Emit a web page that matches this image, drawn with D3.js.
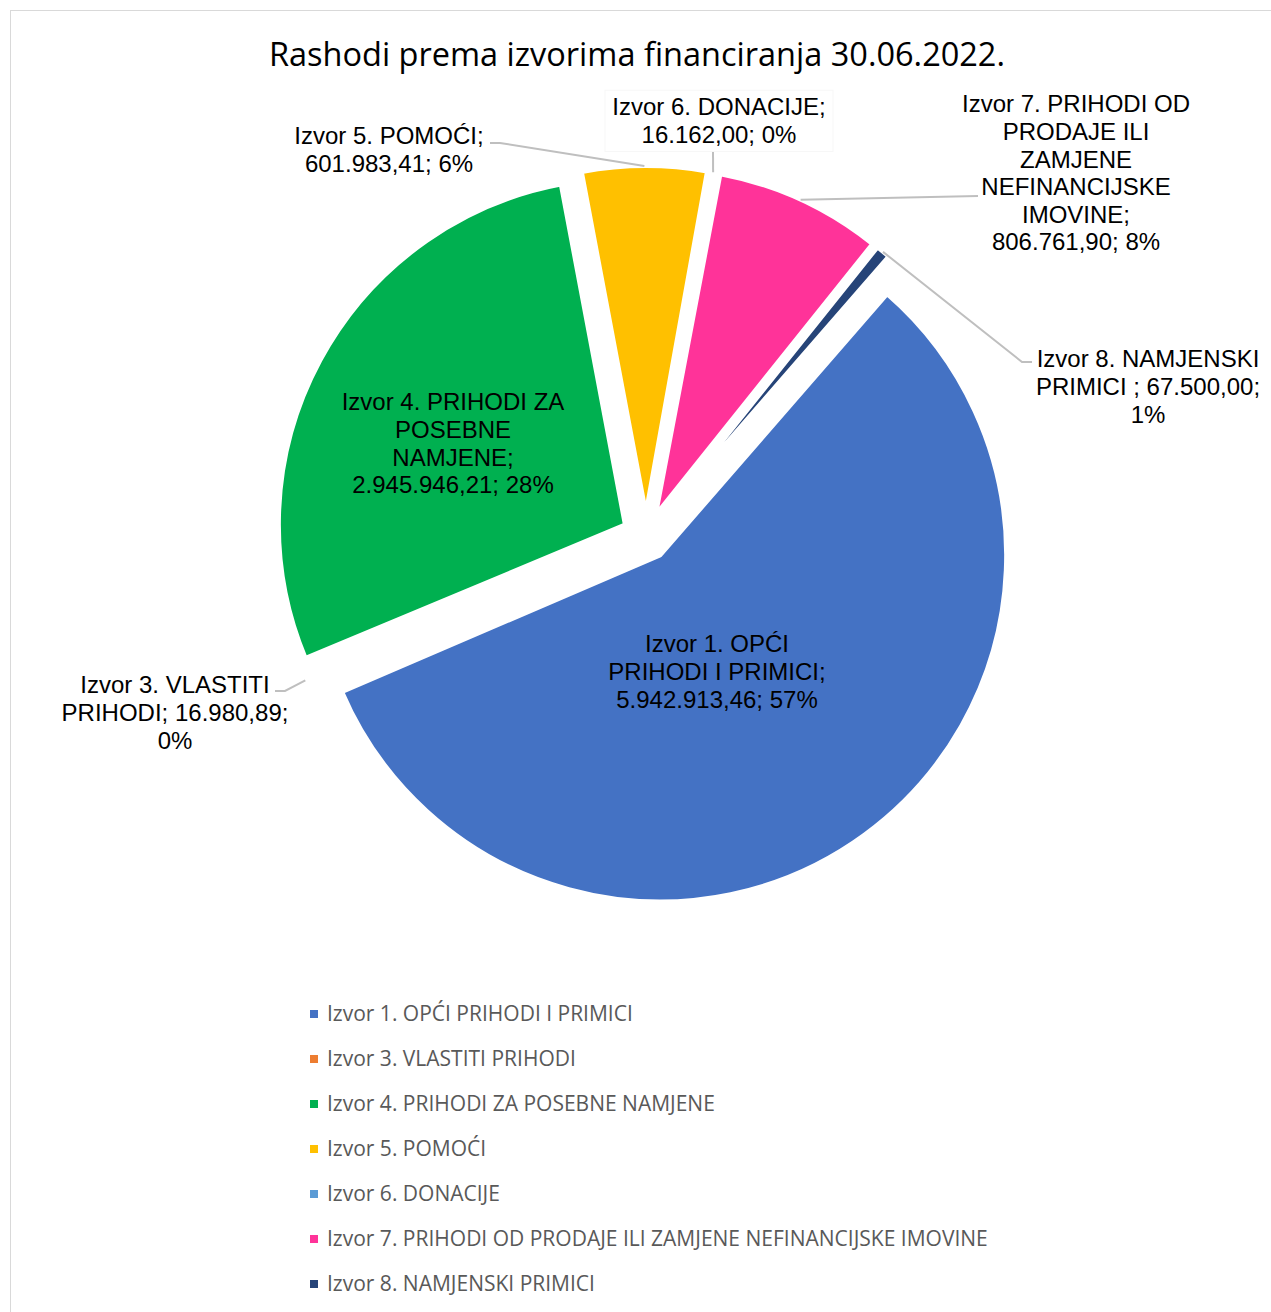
<!DOCTYPE html>
<html>
<head>
<meta charset="utf-8">
<title>Rashodi prema izvorima financiranja</title>
<script src="https://d3js.org/d3.v7.min.js"></script>
<style>
  body { margin: 0; background: #fff; }
  .lbl { font-family: "Liberation Sans", Arial, sans-serif; font-size: 24px; fill: #000; }
  .leg { font-family: "Open Sans", sans-serif; font-size: 21px; fill: #595959; }
  .ttl { font-family: "Open Sans", sans-serif; font-size: 32.5px; fill: #000; }
  .leader { fill: none; stroke: #bfbfbf; stroke-width: 2px; }
</style>
</head>
<body>
<svg id="chart" width="1271" height="1312"></svg>
<script>
// --- data ---
var categories = [
    "Izvor 1. OPĆI PRIHODI I PRIMICI",
    "Izvor 3. VLASTITI PRIHODI",
    "Izvor 4. PRIHODI ZA POSEBNE NAMJENE",
    "Izvor 5. POMOĆI",
    "Izvor 6. DONACIJE",
    "Izvor 7. PRIHODI OD PRODAJE ILI ZAMJENE NEFINANCIJSKE IMOVINE",
    "Izvor 8. NAMJENSKI PRIMICI "
];
var values = [5942913.46, 16980.89, 2945946.21, 601983.41, 16162.00, 806761.90, 67500.00];
var valueLabels = ["5.942.913,46", "16.980,89", "2.945.946,21", "601.983,41", "16.162,00", "806.761,90", "67.500,00"];
var percentLabels = ["57%", "0%", "28%", "6%", "0%", "8%", "1%"];
var colors = ["#4472C4", "#ED7D31", "#00B050", "#FFC000", "#5B9BD5", "#FF3399", "#264478"];
var title = "Rashodi prema izvorima financiranja 30.06.2022.";

// words per line for each data label (how Excel wrapped them)
var labelWrap = [[3, 3, 2], [3, 2, 1], [4, 1, 1, 2], [3, 2], [3, 2], [4, 2, 1, 1, 1, 2], [3, 3, 1]];

// --- layout ---
var cx = 646, cy = 536, radius = 346, explode = 24;
var firstSliceAngle = 41; // degrees, like Excel's "angle of first slice"
var lineH = 27.6;

// label centre (x) and first line centre (y); elbow = leader bend next to the label
var labelPos = [
    { x: 717, y: 644 },
    { x: 175, y: 685, elbow: [[285, 691], [275, 691]] },
    { x: 453, y: 402 },
    { x: 389, y: 136, elbow: [[500, 143], [490, 143]] },
    { x: 719, y: 107, elbow: [[713, 152]], box: true },
    { x: 1076, y: 104, elbow: [[978, 196]] },
    { x: 1148, y: 359, elbow: [[1022, 362], [1032, 362]] }
];

var svg = d3.select("#chart");

svg.append("rect")
    .attr("x", 10.5).attr("y", 10.5)
    .attr("width", 1275).attr("height", 1320)
    .attr("fill", "#fff")
    .attr("stroke", "#d9d9d9");

svg.append("text")
    .attr("class", "ttl")
    .attr("x", 637).attr("y", 66)
    .attr("text-anchor", "middle")
    .text(title);

var a0 = firstSliceAngle * Math.PI / 180;
var pie = d3.pie().sort(null).startAngle(a0).endAngle(a0 + 2 * Math.PI);
var arcs = pie(values);

var arc = d3.arc().innerRadius(0).outerRadius(radius);

function offset(d, dist) {
    var mid = (d.startAngle + d.endAngle) / 2;
    return [Math.sin(mid) * dist, -Math.cos(mid) * dist];
}

var g = svg.append("g").attr("transform", "translate(" + cx + "," + cy + ")");

g.selectAll(".slice")
    .data(arcs)
  .enter().append("path")
    .attr("class", "slice")
    .attr("transform", function(d) { var o = offset(d, explode); return "translate(" + o[0] + "," + o[1] + ")"; })
    .attr("d", arc)
    .attr("fill", function(d, i) { return colors[i]; })
    .attr("stroke", "#fff")
    .attr("stroke-width", 4)
    .attr("stroke-linejoin", "bevel");

// leader lines from the slice edge (mid angle) to the label
var line = d3.line();
arcs.forEach(function(d, i) {
    var p = labelPos[i];
    if (!p.elbow) return;
    var o = offset(d, explode), e = offset(d, radius);
    var pts = [[cx + o[0] + e[0], cy + o[1] + e[1]]].concat(p.elbow);
    svg.append("path").attr("class", "leader").attr("d", line(pts));
});

// data labels
arcs.forEach(function(d, i) {
    var p = labelPos[i];
    var words = (categories[i] + "; " + valueLabels[i] + "; " + percentLabels[i]).split(" ");
    var lines = [], k = 0;
    labelWrap[i].forEach(function(n) { lines.push(words.slice(k, k + n).join(" ")); k += n; });

    if (p.box) {
        var w = 228, h = lines.length * lineH + 6;
        svg.append("rect")
            .attr("x", p.x - w / 2).attr("y", p.y - lineH / 2 - 3)
            .attr("width", w).attr("height", h)
            .attr("fill", "#fff").attr("stroke", "#f7f7f7");
    }

    var t = svg.append("text")
        .attr("class", "lbl")
        .attr("text-anchor", "middle");
    lines.forEach(function(s, j) {
        t.append("tspan")
            .attr("x", p.x)
            .attr("y", p.y + j * lineH)
            .attr("dy", "0.35em")
            .text(s);
    });
});

// legend
var legY = 1014, legStep = 45;
var leg = svg.append("g").selectAll("g")
    .data(categories)
  .enter().append("g")
    .attr("transform", function(d, i) { return "translate(310," + (legY + i * legStep) + ")"; });

leg.append("rect")
    .attr("x", 0).attr("y", -4)
    .attr("width", 8).attr("height", 8)
    .attr("fill", function(d, i) { return colors[i]; });

leg.append("text")
    .attr("class", "leg")
    .attr("x", 17)
    .attr("dy", "0.35em")
    .text(function(d) { return d.trim(); });
</script>
</body>
</html>
